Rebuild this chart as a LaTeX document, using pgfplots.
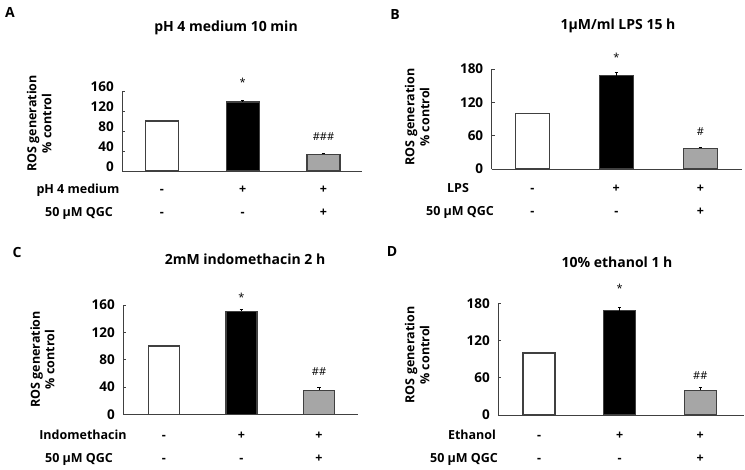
\documentclass[border=0pt]{standalone}
\usepackage{fontspec}
\setmainfont{Open Sans}
\usepackage{pgfplots}
\pgfplotsset{compat=1.18}
\definecolor{edge}{HTML}{404040}
\definecolor{grayfill}{HTML}{A6A6A6}
\pgfplotsset{
 panel/.style={scale only axis, anchor=south west, axis lines=left,
   axis line style={-, draw=edge, line width=0.8pt}, ymin=0,
   xtick=\empty, tick align=inside, major tick length=3pt,
   ytick style={draw=edge, line width=0.8pt},
   yticklabel style={font=\fontsize{13.5}{15}\selectfont\bfseries, xshift=-5pt},
   /pgf/number format/assume math mode=true, clip=false,
   ybar, bar shift=0pt},
 bstyle/.style={draw=edge, line width=1.2pt},
 estyle/.style={draw=edge, line width=1.2pt, error bars/.cd, y dir=plus, y explicit,
   error bar style={line width=0.9pt, draw=black},
   error mark options={rotate=90, mark size=1.8pt, line width=0.9pt, draw=black}, /pgfplots/.cd},
}
\tikzset{
 txt/.style={font=\fontsize{12.5}{14}\selectfont\bfseries, text height=9pt, text depth=0pt, inner sep=0pt},
 ttl/.style={font=\fontsize{14}{16}\selectfont\bfseries, text height=10pt, text depth=0pt, inner sep=0pt},
 let/.style={font=\fontsize{14}{16}\selectfont\bfseries, text height=10pt, text depth=0pt, inner sep=0pt},
 ann/.style={font=\fontsize{11}{13}\selectfont, text height=8pt, text depth=0pt, inner sep=0pt},
 ylab/.style={font=\fontsize{12.5}{14}\selectfont\bfseries, text height=8.9pt, text depth=0pt, inner sep=0pt, rotate=90},
}
\begin{document}
\begin{tikzpicture}
\path[use as bounding box] (0pt,0pt) rectangle (745pt,470pt);
% Panel A
\begin{axis}[panel, at={(122.3pt,299pt)}, width=239.7pt, height=80pt,
  xmin=-0.49, xmax=2.477, ymax=160, ytick={0,40,80,120,160}, bar width=33pt,
  yticklabel style={yshift=4pt}]
\addplot[fill=white, bstyle] coordinates {(0,100)};
\addplot[fill=black, estyle] coordinates {(1,138) +- (0,3)};
\addplot[fill=grayfill, estyle] coordinates {(2,33) +- (0,3)};
\node[ann] at (axis cs:1,176) {*};
\node[ann] at (axis cs:2,68) {\#\#\#};
\node[txt] at (axis cs:0,0) [yshift=-18pt] {-};
\node[txt] at (axis cs:1,0) [yshift=-18pt] {+};
\node[txt] at (axis cs:2,0) [yshift=-18pt] {+};
\node[txt] at (axis cs:0,0) [yshift=-41pt] {-};
\node[txt] at (axis cs:1,0) [yshift=-41pt] {-};
\node[txt] at (axis cs:2,0) [yshift=-41pt] {+};
\end{axis}
% Panel B
\begin{axis}[panel, at={(491.7pt,301pt)}, width=250.3pt, height=100pt,
  xmin=-0.483, xmax=2.496, ymax=180, ytick={0,60,120,180}, bar width=34pt]
\addplot[fill=white, bstyle] coordinates {(0,100)};
\addplot[fill=black, estyle] coordinates {(1,168) +- (0,5)};
\addplot[fill=grayfill, estyle] coordinates {(2,37) +- (0,2)};
\node[ann] at (axis cs:1,200) {*};
\node[ann] at (axis cs:2,66.6) {\#};
\node[txt] at (axis cs:0,0) [yshift=-19pt] {-};
\node[txt] at (axis cs:1,0) [yshift=-19pt] {+};
\node[txt] at (axis cs:2,0) [yshift=-19pt] {+};
\node[txt] at (axis cs:0,0) [yshift=-42pt] {-};
\node[txt] at (axis cs:1,0) [yshift=-42pt] {-};
\node[txt] at (axis cs:2,0) [yshift=-42pt] {+};
\end{axis}
% Panel C
\begin{axis}[panel, at={(123.3pt,55.7pt)}, width=234.7pt, height=109.3pt,
  xmin=-0.525, xmax=2.503, ymax=160, ytick={0,40,80,120,160}, bar width=31pt]
\addplot[fill=white, bstyle] coordinates {(0,100)};
\addplot[fill=black, estyle] coordinates {(1,151) +- (0,3)};
\addplot[fill=grayfill, estyle] coordinates {(2,35) +- (0,5)};
\node[ann] at (axis cs:1,171.7) {*};
\node[ann] at (axis cs:2,62) {\#\#};
\node[txt] at (axis cs:0,0) [yshift=-21pt] {-};
\node[txt] at (axis cs:1,0) [yshift=-21pt] {+};
\node[txt] at (axis cs:2,0) [yshift=-21pt] {+};
\node[txt] at (axis cs:0,0) [yshift=-44pt] {-};
\node[txt] at (axis cs:1,0) [yshift=-44pt] {-};
\node[txt] at (axis cs:2,0) [yshift=-44pt] {+};
\end{axis}
% Panel D
\begin{axis}[panel, at={(498.3pt,55pt)}, width=245.7pt, height=111.7pt,
  xmin=-0.505, xmax=2.542, ymax=180, ytick={0,60,120,180}, bar width=32pt]
\addplot[fill=white, bstyle] coordinates {(0,100)};
\addplot[fill=black, estyle] coordinates {(1,168) +- (0,5)};
\addplot[fill=grayfill, estyle] coordinates {(2,40) +- (0,4)};
\node[ann] at (axis cs:1,204.6) {*};
\node[ann] at (axis cs:2,64.4) {\#\#};
\node[txt] at (axis cs:0,0) [yshift=-20pt] {-};
\node[txt] at (axis cs:1,0) [yshift=-20pt] {+};
\node[txt] at (axis cs:2,0) [yshift=-20pt] {+};
\node[txt] at (axis cs:0,0) [yshift=-43pt] {-};
\node[txt] at (axis cs:1,0) [yshift=-43pt] {-};
\node[txt] at (axis cs:2,0) [yshift=-43pt] {+};
\end{axis}
% letters
\node[let] at (10pt,457pt) {A};
\node[let] at (395pt,455pt) {B};
\node[let] at (17pt,217pt) {C};
\node[let] at (392pt,218pt) {D};
% titles
\node[ttl] at (226pt,443pt) {pH 4 medium 10 min};
\node[ttl] at (618pt,445pt) {1μM/ml LPS 15 h};
\node[ttl] at (245pt,210pt) {2mM indomethacin 2 h};
\node[ttl] at (617pt,207pt) {10\% ethanol 1 h};
% y labels
\node[ylab] at (32pt,346.5pt) {ROS generation};
\node[ylab] at (47pt,346.5pt) {\% control};
\node[ylab] at (410pt,353pt) {ROS generation};
\node[ylab] at (425pt,353pt) {\% control};
\node[ylab] at (35.5pt,110.5pt) {ROS generation};
\node[ylab] at (50pt,110.5pt) {\% control};
\node[ylab] at (410pt,115pt) {ROS generation};
\node[ylab] at (425pt,115pt) {\% control};
% row labels
\node[txt] at (78pt,281pt) {pH 4 medium};
\node[txt] at (79pt,258pt) {50 μM QGC};
\node[txt] at (458pt,282pt) {LPS};
\node[txt] at (460pt,259pt) {50 μM QGC};
\node[txt] at (83pt,35pt) {Indomethacin};
\node[txt] at (79pt,12.3pt) {50 μM QGC};
\node[txt] at (472pt,35pt) {Ethanol};
\node[txt] at (464pt,12.3pt) {50 μM QGC};
\end{tikzpicture}
\end{document}
